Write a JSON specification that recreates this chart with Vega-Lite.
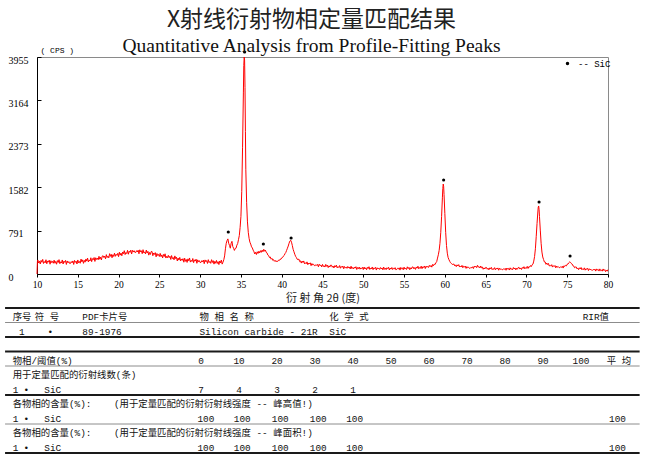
{
 "$schema": "https://vega.github.io/schema/vega-lite/v6.json",
 "width": 571,
 "height": 217,
 "autosize": {"type": "none"},
 "padding": {"left": 37, "top": 57, "right": 42, "bottom": 186},
 "background": "white",
 "config": {"view": {"stroke": "#8a8a8a", "strokeWidth": 1}},
 "title": {
  "text": "X射线衍射物相定量匹配结果",
  "subtitle": "Quantitative Analysis from Profile-Fitting Peaks",
  "anchor": "middle",
  "font": "Noto Sans CJK SC",
  "fontSize": 23,
  "fontWeight": "normal",
  "color": "#222222",
  "subtitleFont": "Liberation Serif",
  "subtitleFontSize": 19.5,
  "subtitleColor": "#111111",
  "subtitlePadding": 5,
  "offset": -9,
  "dx": -11
 },
 "datasets": {
  "xrd": [
   {"angle":10.0,"cps":0},{"angle":10.05,"cps":225},{"angle":10.1,"cps":256},{"angle":10.2,"cps":200},{"angle":10.3,"cps":234},{"angle":10.4,"cps":182},{"angle":10.5,"cps":248},{"angle":10.6,"cps":214},{"angle":10.7,"cps":266},{"angle":10.8,"cps":192},{"angle":10.9,"cps":226},
   {"angle":11.0,"cps":204},{"angle":11.1,"cps":260},{"angle":11.2,"cps":186},{"angle":11.3,"cps":238},{"angle":11.4,"cps":216},{"angle":11.5,"cps":252},{"angle":11.6,"cps":178},{"angle":11.7,"cps":242},{"angle":11.8,"cps":208},{"angle":11.9,"cps":230},
   {"angle":12.0,"cps":196},{"angle":12.1,"cps":252},{"angle":12.2,"cps":196},{"angle":12.3,"cps":230},{"angle":12.4,"cps":178},{"angle":12.5,"cps":244},{"angle":12.6,"cps":210},{"angle":12.7,"cps":262},{"angle":12.8,"cps":188},{"angle":12.9,"cps":222},
   {"angle":13.0,"cps":200},{"angle":13.1,"cps":256},{"angle":13.2,"cps":182},{"angle":13.3,"cps":234},{"angle":13.4,"cps":212},{"angle":13.5,"cps":248},{"angle":13.6,"cps":174},{"angle":13.7,"cps":238},{"angle":13.8,"cps":204},{"angle":13.9,"cps":226},
   {"angle":14.0,"cps":192},{"angle":14.1,"cps":192},{"angle":14.2,"cps":226},{"angle":14.3,"cps":204},{"angle":14.4,"cps":238},{"angle":14.5,"cps":174},{"angle":14.6,"cps":248},{"angle":14.7,"cps":212},{"angle":14.8,"cps":234},{"angle":14.9,"cps":182},
   {"angle":15.0,"cps":256},{"angle":15.1,"cps":204},{"angle":15.2,"cps":228},{"angle":15.3,"cps":196},{"angle":15.4,"cps":272},{"angle":15.5,"cps":222},{"angle":15.6,"cps":258},{"angle":15.7,"cps":194},{"angle":15.8,"cps":248},{"angle":15.9,"cps":216},
   {"angle":16.0,"cps":274},{"angle":16.1,"cps":235},{"angle":16.2,"cps":290},{"angle":16.3,"cps":219},{"angle":16.4,"cps":256},{"angle":16.5,"cps":237},{"angle":16.6,"cps":296},{"angle":16.7,"cps":225},{"angle":16.8,"cps":280},{"angle":16.9,"cps":261},
   {"angle":17.0,"cps":300},{"angle":17.1,"cps":229},{"angle":17.2,"cps":296},{"angle":17.3,"cps":265},{"angle":17.4,"cps":290},{"angle":17.5,"cps":259},{"angle":17.6,"cps":322},{"angle":17.7,"cps":269},{"angle":17.8,"cps":306},{"angle":17.9,"cps":257},
   {"angle":18.0,"cps":326},{"angle":18.1,"cps":333},{"angle":18.2,"cps":300},{"angle":18.3,"cps":325},{"angle":18.4,"cps":276},{"angle":18.5,"cps":353},{"angle":18.6,"cps":300},{"angle":18.7,"cps":325},{"angle":18.8,"cps":294},{"angle":18.9,"cps":371},
   {"angle":19.0,"cps":322},{"angle":19.1,"cps":359},{"angle":19.2,"cps":296},{"angle":19.3,"cps":351},{"angle":19.4,"cps":320},{"angle":19.5,"cps":379},{"angle":19.6,"cps":322},{"angle":19.7,"cps":359},{"angle":19.8,"cps":340},{"angle":19.9,"cps":377},
   {"angle":20.0,"cps":316},{"angle":20.1,"cps":397},{"angle":20.2,"cps":344},{"angle":20.3,"cps":381},{"angle":20.4,"cps":332},{"angle":20.5,"cps":401},{"angle":20.6,"cps":370},{"angle":20.7,"cps":425},{"angle":20.8,"cps":354},{"angle":20.9,"cps":391},
   {"angle":21.0,"cps":372},{"angle":21.1,"cps":431},{"angle":21.2,"cps":360},{"angle":21.3,"cps":415},{"angle":21.4,"cps":396},{"angle":21.5,"cps":435},{"angle":21.6,"cps":364},{"angle":21.7,"cps":431},{"angle":21.8,"cps":400},{"angle":21.9,"cps":425},
   {"angle":22.0,"cps":394},{"angle":22.1,"cps":392},{"angle":22.2,"cps":425},{"angle":22.3,"cps":401},{"angle":22.4,"cps":434},{"angle":22.5,"cps":368},{"angle":22.6,"cps":441},{"angle":22.7,"cps":403},{"angle":22.8,"cps":424},{"angle":22.9,"cps":370},
   {"angle":23.0,"cps":443},{"angle":23.1,"cps":384},{"angle":23.2,"cps":403},{"angle":23.3,"cps":366},{"angle":23.4,"cps":437},{"angle":23.5,"cps":382},{"angle":23.6,"cps":413},{"angle":23.7,"cps":344},{"angle":23.8,"cps":393},{"angle":23.9,"cps":356},
   {"angle":24.0,"cps":409},{"angle":24.1,"cps":410},{"angle":24.2,"cps":333},{"angle":24.3,"cps":382},{"angle":24.4,"cps":357},{"angle":24.5,"cps":390},{"angle":24.6,"cps":313},{"angle":24.7,"cps":374},{"angle":24.8,"cps":337},{"angle":24.9,"cps":356},
   {"angle":25.0,"cps":319},{"angle":25.1,"cps":376},{"angle":25.2,"cps":317},{"angle":25.3,"cps":348},{"angle":25.4,"cps":293},{"angle":25.5,"cps":356},{"angle":25.6,"cps":319},{"angle":25.7,"cps":368},{"angle":25.8,"cps":291},{"angle":25.9,"cps":322},
   {"angle":26.0,"cps":297},{"angle":26.1,"cps":340},{"angle":26.2,"cps":299},{"angle":26.3,"cps":324},{"angle":26.4,"cps":265},{"angle":26.5,"cps":336},{"angle":26.6,"cps":281},{"angle":26.7,"cps":300},{"angle":26.8,"cps":259},{"angle":26.9,"cps":330},
   {"angle":27.0,"cps":281},{"angle":27.1,"cps":306},{"angle":27.2,"cps":237},{"angle":27.3,"cps":290},{"angle":27.4,"cps":253},{"angle":27.5,"cps":302},{"angle":27.6,"cps":239},{"angle":27.7,"cps":274},{"angle":27.8,"cps":249},{"angle":27.9,"cps":280},
   {"angle":28.0,"cps":215},{"angle":28.1,"cps":288},{"angle":28.2,"cps":231},{"angle":28.3,"cps":264},{"angle":28.4,"cps":211},{"angle":28.5,"cps":276},{"angle":28.6,"cps":241},{"angle":28.7,"cps":292},{"angle":28.8,"cps":217},{"angle":28.9,"cps":250},
   {"angle":29.0,"cps":227},{"angle":29.1,"cps":282},{"angle":29.2,"cps":207},{"angle":29.3,"cps":258},{"angle":29.4,"cps":235},{"angle":29.5,"cps":270},{"angle":29.6,"cps":195},{"angle":29.7,"cps":258},{"angle":29.8,"cps":223},{"angle":29.9,"cps":244},
   {"angle":30.0,"cps":209},{"angle":30.1,"cps":210},{"angle":30.2,"cps":243},{"angle":30.3,"cps":220},{"angle":30.4,"cps":253},{"angle":30.5,"cps":188},{"angle":30.6,"cps":257},{"angle":30.7,"cps":224},{"angle":30.8,"cps":245},{"angle":30.9,"cps":192},
   {"angle":31.0,"cps":261},{"angle":31.1,"cps":208},{"angle":31.2,"cps":229},{"angle":31.3,"cps":194},{"angle":31.4,"cps":261},{"angle":31.5,"cps":210},{"angle":31.6,"cps":243},{"angle":31.7,"cps":180},{"angle":31.8,"cps":231},{"angle":31.9,"cps":196},
   {"angle":32.0,"cps":247},{"angle":32.1,"cps":192},{"angle":32.2,"cps":225},{"angle":32.3,"cps":172},{"angle":32.4,"cps":237},{"angle":32.5,"cps":202},{"angle":32.6,"cps":254},{"angle":32.7,"cps":180},{"angle":32.8,"cps":216},{"angle":32.9,"cps":260},
   {"angle":33.0,"cps":330},{"angle":33.1,"cps":460},{"angle":33.2,"cps":560},{"angle":33.3,"cps":610},{"angle":33.4,"cps":640},{"angle":33.5,"cps":560},{"angle":33.6,"cps":520},{"angle":33.7,"cps":470},{"angle":33.8,"cps":560},{"angle":33.9,"cps":595},
   {"angle":34.0,"cps":500},{"angle":34.1,"cps":470},{"angle":34.2,"cps":430},{"angle":34.3,"cps":465},{"angle":34.4,"cps":470},{"angle":34.5,"cps":525},{"angle":34.6,"cps":555},{"angle":34.7,"cps":625},{"angle":34.8,"cps":700},{"angle":34.9,"cps":850},
   {"angle":35.0,"cps":1050},{"angle":35.1,"cps":1500},{"angle":35.2,"cps":2300},{"angle":35.3,"cps":3300},{"angle":35.35,"cps":3800},{"angle":35.4,"cps":3955},{"angle":35.45,"cps":3900},{"angle":35.5,"cps":3400},{"angle":35.55,"cps":2600},{"angle":35.6,"cps":1900},
   {"angle":35.7,"cps":1300},{"angle":35.8,"cps":950},{"angle":35.9,"cps":760},{"angle":36.0,"cps":650},{"angle":36.1,"cps":580},{"angle":36.2,"cps":545},{"angle":36.3,"cps":495},{"angle":36.4,"cps":475},{"angle":36.5,"cps":435},{"angle":36.6,"cps":405},
   {"angle":36.7,"cps":365},{"angle":36.8,"cps":395},{"angle":36.9,"cps":355},{"angle":37.0,"cps":405},{"angle":37.1,"cps":375},{"angle":37.2,"cps":415},{"angle":37.3,"cps":385},{"angle":37.4,"cps":425},{"angle":37.5,"cps":395},{"angle":37.6,"cps":435},
   {"angle":37.7,"cps":405},{"angle":37.8,"cps":450},{"angle":37.9,"cps":415},{"angle":38.0,"cps":435},{"angle":38.1,"cps":395},{"angle":38.2,"cps":385},{"angle":38.3,"cps":345},{"angle":38.4,"cps":335},{"angle":38.5,"cps":300},{"angle":38.6,"cps":310},
   {"angle":38.7,"cps":270},{"angle":38.8,"cps":285},{"angle":38.9,"cps":250},{"angle":39.0,"cps":262},{"angle":39.1,"cps":232},{"angle":39.2,"cps":248},{"angle":39.3,"cps":222},{"angle":39.4,"cps":236},{"angle":39.5,"cps":228},{"angle":39.6,"cps":252},
   {"angle":39.7,"cps":245},{"angle":39.8,"cps":270},{"angle":39.9,"cps":268},{"angle":40.0,"cps":295},{"angle":40.1,"cps":300},{"angle":40.2,"cps":325},{"angle":40.3,"cps":338},{"angle":40.4,"cps":370},{"angle":40.5,"cps":392},{"angle":40.6,"cps":430},
   {"angle":40.7,"cps":470},{"angle":40.8,"cps":510},{"angle":40.9,"cps":560},{"angle":41.0,"cps":600},{"angle":41.1,"cps":615},{"angle":41.2,"cps":580},{"angle":41.3,"cps":520},{"angle":41.4,"cps":450},{"angle":41.5,"cps":405},{"angle":41.6,"cps":360},
   {"angle":41.7,"cps":322},{"angle":41.8,"cps":300},{"angle":41.9,"cps":268},{"angle":42.0,"cps":262},
   {"angle":42.1,"cps":272},{"angle":42.2,"cps":226},{"angle":42.3,"cps":240},{"angle":42.4,"cps":199},{"angle":42.5,"cps":236},{"angle":42.6,"cps":209},{"angle":42.7,"cps":238},{"angle":42.8,"cps":185},{"angle":42.9,"cps":205},
   {"angle":43.0,"cps":187},{"angle":43.1,"cps":221},{"angle":43.2,"cps":170},{"angle":43.3,"cps":200},{"angle":43.4,"cps":183},{"angle":43.5,"cps":204},{"angle":43.6,"cps":152},{"angle":43.7,"cps":191},{"angle":43.8,"cps":166},{"angle":43.9,"cps":177},
   {"angle":44.0,"cps":153},{"angle":44.1,"cps":151},{"angle":44.2,"cps":171},{"angle":44.3,"cps":155},{"angle":44.4,"cps":175},{"angle":44.5,"cps":131},{"angle":44.6,"cps":178},{"angle":44.7,"cps":152},{"angle":44.8,"cps":164},{"angle":44.9,"cps":129},
   {"angle":45.0,"cps":175},{"angle":45.1,"cps":137},{"angle":45.2,"cps":151},{"angle":45.3,"cps":127},{"angle":45.4,"cps":175},{"angle":45.5,"cps":140},{"angle":45.6,"cps":161},{"angle":45.7,"cps":117},{"angle":45.8,"cps":150},{"angle":45.9,"cps":127},
   {"angle":46.0,"cps":162},{"angle":46.1,"cps":161},{"angle":46.2,"cps":124},{"angle":46.3,"cps":145},{"angle":46.4,"cps":110},{"angle":46.5,"cps":152},{"angle":46.6,"cps":129},{"angle":46.7,"cps":162},{"angle":46.8,"cps":112},{"angle":46.9,"cps":134},
   {"angle":47.0,"cps":118},{"angle":47.1,"cps":154},{"angle":47.2,"cps":105},{"angle":47.3,"cps":137},{"angle":47.4,"cps":122},{"angle":47.5,"cps":145},{"angle":47.6,"cps":95},{"angle":47.7,"cps":136},{"angle":47.8,"cps":113},{"angle":47.9,"cps":126},
   {"angle":48.0,"cps":103},{"angle":48.1,"cps":137},{"angle":48.2,"cps":110},{"angle":48.3,"cps":128},{"angle":48.4,"cps":92},{"angle":48.5,"cps":142},{"angle":48.6,"cps":99},{"angle":48.7,"cps":119},{"angle":48.8,"cps":91},{"angle":48.9,"cps":125},
   {"angle":49.0,"cps":107},{"angle":49.1,"cps":133},{"angle":49.2,"cps":82},{"angle":49.3,"cps":118},{"angle":49.4,"cps":97},{"angle":49.5,"cps":127},{"angle":49.6,"cps":88},{"angle":49.7,"cps":111},{"angle":49.8,"cps":99},{"angle":49.9,"cps":122},
   {"angle":50.0,"cps":80},{"angle":50.1,"cps":127},{"angle":50.2,"cps":91},{"angle":50.3,"cps":113},{"angle":50.4,"cps":78},{"angle":50.5,"cps":121},{"angle":50.6,"cps":99},{"angle":50.7,"cps":133},{"angle":50.8,"cps":83},{"angle":50.9,"cps":106},
   {"angle":51.0,"cps":91},{"angle":51.1,"cps":128},{"angle":51.2,"cps":79},{"angle":51.3,"cps":112},{"angle":51.4,"cps":98},{"angle":51.5,"cps":122},{"angle":51.6,"cps":72},{"angle":51.7,"cps":114},{"angle":51.8,"cps":92},{"angle":51.9,"cps":106},
   {"angle":52.0,"cps":83},{"angle":52.1,"cps":118},{"angle":52.2,"cps":92},{"angle":52.3,"cps":111},{"angle":52.4,"cps":76},{"angle":52.5,"cps":127},{"angle":52.6,"cps":85},{"angle":52.7,"cps":106},{"angle":52.8,"cps":79},{"angle":52.9,"cps":114},
   {"angle":53.0,"cps":97},{"angle":53.1,"cps":123},{"angle":53.2,"cps":73},{"angle":53.3,"cps":109},{"angle":53.4,"cps":89},{"angle":53.5,"cps":119},{"angle":53.6,"cps":81},{"angle":53.7,"cps":104},{"angle":53.8,"cps":93},{"angle":53.9,"cps":116},
   {"angle":54.0,"cps":75},{"angle":54.1,"cps":83},{"angle":54.2,"cps":105},{"angle":54.3,"cps":91},{"angle":54.4,"cps":113},{"angle":54.5,"cps":71},{"angle":54.6,"cps":120},{"angle":54.7,"cps":96},{"angle":54.8,"cps":110},{"angle":54.9,"cps":77},
   {"angle":55.0,"cps":125},{"angle":55.1,"cps":89},{"angle":55.2,"cps":104},{"angle":55.3,"cps":82},{"angle":55.4,"cps":131},{"angle":55.5,"cps":98},{"angle":55.6,"cps":121},{"angle":55.7,"cps":78},{"angle":55.8,"cps":113},{"angle":55.9,"cps":91},
   {"angle":56.0,"cps":128},{"angle":56.1,"cps":129},{"angle":56.2,"cps":94},{"angle":56.3,"cps":117},{"angle":56.4,"cps":84},{"angle":56.5,"cps":128},{"angle":56.6,"cps":107},{"angle":56.7,"cps":142},{"angle":56.8,"cps":94},{"angle":56.9,"cps":118},
   {"angle":57.0,"cps":104},{"angle":57.1,"cps":143},{"angle":57.2,"cps":97},{"angle":57.3,"cps":132},{"angle":57.4,"cps":120},{"angle":57.5,"cps":146},{"angle":57.6,"cps":99},{"angle":57.7,"cps":143},{"angle":57.8,"cps":123},{"angle":57.9,"cps":139},
   {"angle":58.0,"cps":119},{"angle":58.1,"cps":157},{"angle":58.2,"cps":134},{"angle":58.3,"cps":156},{"angle":58.4,"cps":125},{"angle":58.5,"cps":174},{"angle":58.6,"cps":150},{"angle":58.7,"cps":180},{"angle":58.8,"cps":172},{"angle":58.9,"cps":204},
   {"angle":59.0,"cps":225},{"angle":59.1,"cps":290},{"angle":59.2,"cps":350},{"angle":59.3,"cps":430},{"angle":59.4,"cps":560},{"angle":59.5,"cps":760},{"angle":59.6,"cps":1050},{"angle":59.7,"cps":1400},{"angle":59.75,"cps":1560},{"angle":59.8,"cps":1640},
   {"angle":59.85,"cps":1600},{"angle":59.9,"cps":1450},{"angle":60.0,"cps":1100},{"angle":60.1,"cps":760},{"angle":60.2,"cps":520},{"angle":60.3,"cps":380},{"angle":60.4,"cps":300},{"angle":60.5,"cps":262},{"angle":60.6,"cps":230},{"angle":60.7,"cps":205},
   {"angle":60.8,"cps":190},{"angle":60.9,"cps":178},{"angle":61.0,"cps":170},
   {"angle":61.1,"cps":184},{"angle":61.2,"cps":150},{"angle":61.3,"cps":166},{"angle":61.4,"cps":134},{"angle":61.5,"cps":167},{"angle":61.6,"cps":146},{"angle":61.7,"cps":171},{"angle":61.8,"cps":127},{"angle":61.9,"cps":143},
   {"angle":62.0,"cps":128},{"angle":62.1,"cps":157},{"angle":62.2,"cps":114},{"angle":62.3,"cps":141},{"angle":62.4,"cps":127},{"angle":62.5,"cps":145},{"angle":62.6,"cps":102},{"angle":62.7,"cps":135},{"angle":62.8,"cps":114},{"angle":62.9,"cps":124},
   {"angle":63.0,"cps":104},{"angle":63.1,"cps":103},{"angle":63.2,"cps":122},{"angle":63.3,"cps":111},{"angle":63.4,"cps":132},{"angle":63.5,"cps":99},{"angle":63.6,"cps":143},{"angle":63.7,"cps":126},{"angle":63.8,"cps":142},{"angle":63.9,"cps":116},
   {"angle":64.0,"cps":159},{"angle":64.1,"cps":126},{"angle":64.2,"cps":134},{"angle":64.3,"cps":110},{"angle":64.4,"cps":146},{"angle":64.5,"cps":113},{"angle":64.6,"cps":126},{"angle":64.7,"cps":86},{"angle":64.8,"cps":112},{"angle":64.9,"cps":91},
   {"angle":65.0,"cps":120},{"angle":65.1,"cps":119},{"angle":65.2,"cps":87},{"angle":65.3,"cps":106},{"angle":65.4,"cps":76},{"angle":65.5,"cps":112},{"angle":65.6,"cps":93},{"angle":65.7,"cps":121},{"angle":65.8,"cps":79},{"angle":65.9,"cps":98},
   {"angle":66.0,"cps":85},{"angle":66.1,"cps":116},{"angle":66.2,"cps":75},{"angle":66.3,"cps":103},{"angle":66.4,"cps":91},{"angle":66.5,"cps":111},{"angle":66.6,"cps":69},{"angle":66.7,"cps":104},{"angle":66.8,"cps":85},{"angle":66.9,"cps":96},
   {"angle":67.0,"cps":78},{"angle":67.1,"cps":78},{"angle":67.2,"cps":96},{"angle":67.3,"cps":84},{"angle":67.4,"cps":103},{"angle":67.5,"cps":68},{"angle":67.6,"cps":109},{"angle":67.7,"cps":89},{"angle":67.8,"cps":101},{"angle":67.9,"cps":72},
   {"angle":68.0,"cps":113},{"angle":68.1,"cps":83},{"angle":68.2,"cps":95},{"angle":68.3,"cps":77},{"angle":68.4,"cps":118},{"angle":68.5,"cps":91},{"angle":68.6,"cps":110},{"angle":68.7,"cps":75},{"angle":68.8,"cps":105},{"angle":68.9,"cps":87},
   {"angle":69.0,"cps":119},{"angle":69.1,"cps":120},{"angle":69.2,"cps":90},{"angle":69.3,"cps":110},{"angle":69.4,"cps":82},{"angle":69.5,"cps":119},{"angle":69.6,"cps":103},{"angle":69.7,"cps":133},{"angle":69.8,"cps":94},{"angle":69.9,"cps":115},
   {"angle":70.0,"cps":105},{"angle":70.1,"cps":139},{"angle":70.2,"cps":101},{"angle":70.3,"cps":134},{"angle":70.4,"cps":127},{"angle":70.5,"cps":154},{"angle":70.6,"cps":136},{"angle":70.7,"cps":168},{"angle":70.8,"cps":180},{"angle":70.9,"cps":235},
   {"angle":71.0,"cps":320},{"angle":71.1,"cps":460},{"angle":71.2,"cps":680},{"angle":71.3,"cps":920},{"angle":71.4,"cps":1130},{"angle":71.45,"cps":1220},{"angle":71.5,"cps":1240},{"angle":71.55,"cps":1180},{"angle":71.6,"cps":1050},
   {"angle":71.7,"cps":800},{"angle":71.8,"cps":560},{"angle":71.9,"cps":400},{"angle":72.0,"cps":310},{"angle":72.1,"cps":265},{"angle":72.2,"cps":220},{"angle":72.3,"cps":219},{"angle":72.4,"cps":176},{"angle":72.5,"cps":200},{"angle":72.6,"cps":172},
   {"angle":72.7,"cps":192},{"angle":72.8,"cps":145},{"angle":72.9,"cps":159},{"angle":73.0,"cps":143},{"angle":73.1,"cps":170},{"angle":73.2,"cps":126},{"angle":73.3,"cps":152},{"angle":73.4,"cps":137},{"angle":73.5,"cps":155},{"angle":73.6,"cps":112},
   {"angle":73.7,"cps":145},{"angle":73.8,"cps":124},{"angle":73.9,"cps":135},{"angle":74.0,"cps":116},{"angle":74.1,"cps":115},{"angle":74.2,"cps":133},{"angle":74.3,"cps":121},{"angle":74.4,"cps":141},{"angle":74.5,"cps":108},{"angle":74.6,"cps":152},
   {"angle":74.7,"cps":137},{"angle":74.8,"cps":157},{"angle":74.9,"cps":148},{"angle":75.0,"cps":178},{"angle":75.1,"cps":181},{"angle":75.2,"cps":206},{"angle":75.3,"cps":220},{"angle":75.4,"cps":212},{"angle":75.5,"cps":192},{"angle":75.6,"cps":182},
   {"angle":75.7,"cps":150},{"angle":75.8,"cps":146},{"angle":75.9,"cps":114},{"angle":76.0,"cps":126},{"angle":76.1,"cps":129},{"angle":76.2,"cps":94},{"angle":76.3,"cps":110},{"angle":76.4,"cps":79},{"angle":76.5,"cps":113},{"angle":76.6,"cps":93},
   {"angle":76.7,"cps":119},{"angle":76.8,"cps":77},{"angle":76.9,"cps":95},{"angle":77.0,"cps":82},{"angle":77.1,"cps":112},{"angle":77.2,"cps":70},{"angle":77.3,"cps":98},{"angle":77.4,"cps":85},{"angle":77.5,"cps":104},{"angle":77.6,"cps":62},
   {"angle":77.7,"cps":96},{"angle":77.8,"cps":76},{"angle":77.9,"cps":87},{"angle":78.0,"cps":68},{"angle":78.1,"cps":67},{"angle":78.2,"cps":84},{"angle":78.3,"cps":71},{"angle":78.4,"cps":89},{"angle":78.5,"cps":53},{"angle":78.6,"cps":93},
   {"angle":78.7,"cps":72},{"angle":78.8,"cps":83},{"angle":78.9,"cps":53},{"angle":79.0,"cps":93},{"angle":79.1,"cps":61},{"angle":79.2,"cps":72},{"angle":79.3,"cps":52},{"angle":79.4,"cps":92},{"angle":79.5,"cps":63},{"angle":79.6,"cps":80},
   {"angle":79.7,"cps":43},{"angle":79.8,"cps":71},{"angle":79.9,"cps":51},{"angle":80.0,"cps":81}
  ],
  "peaks": [
   {"angle":33.45,"cps":765,"phase":"SiC"},
   {"angle":35.45,"cps":4046,"phase":"SiC"},
   {"angle":37.75,"cps":547,"phase":"SiC"},
   {"angle":41.15,"cps":656,"phase":"SiC"},
   {"angle":59.85,"cps":1713,"phase":"SiC"},
   {"angle":71.55,"cps":1312,"phase":"SiC"},
   {"angle":75.35,"cps":328,"phase":"SiC"}
  ],
  "rules": [
   {"line":0,"kind":"major"},{"line":1,"kind":"minor"},{"line":2,"kind":"major"},{"line":3,"kind":"major"},
   {"line":4,"kind":"minor"},{"line":6,"kind":"major"},{"line":8,"kind":"minor"},{"line":10,"kind":"major"}
  ],
  "labels": [
   {"line":0,"col":2,"text":"序号"},{"line":0,"col":5.5,"text":"符 号"},{"line":0,"col":13,"text":"PDF卡片号"},
   {"line":0,"col":31.5,"text":"物 相 名 称"},{"line":0,"col":52,"text":"化 学 式"},{"line":0,"col":92,"text":"RIR值"},
   {"line":1,"col":3,"text":"1"},{"line":1,"col":7.5,"text":"•"},{"line":1,"col":13,"text":"89-1976"},
   {"line":1,"col":31.5,"text":"Silicon carbide - 21R"},{"line":1,"col":52,"text":"SiC"},
   {"line":3,"col":2,"text":"物相/阈值(%)"},
   {"line":4,"col":2,"text":"用于定量匹配的衍射线数(条)"},
   {"line":5,"col":2,"text":"1"},{"line":5,"col":3.7,"text":"•"},{"line":5,"col":7,"text":"SiC"},
   {"line":6,"col":2,"text":"各物相的含量(%):"},{"line":6,"col":18,"text":"(用于定量匹配的衍射衍射线强度 -- 峰高值!)"},
   {"line":7,"col":2,"text":"1"},{"line":7,"col":3.7,"text":"•"},{"line":7,"col":7,"text":"SiC"},
   {"line":8,"col":2,"text":"各物相的含量(%):"},{"line":8,"col":18,"text":"(用于定量匹配的衍射衍射线强度 -- 峰面积!)"},
   {"line":9,"col":2,"text":"1"},{"line":9,"col":3.7,"text":"•"},{"line":9,"col":7,"text":"SiC"}
  ],
  "cells": [
   {"line":3,"col":31.75,"text":"0"},{"line":3,"col":37.75,"text":"10"},{"line":3,"col":43.75,"text":"20"},{"line":3,"col":49.75,"text":"30"},
   {"line":3,"col":55.75,"text":"40"},{"line":3,"col":61.75,"text":"50"},{"line":3,"col":67.75,"text":"60"},{"line":3,"col":73.75,"text":"70"},
   {"line":3,"col":79.75,"text":"80"},{"line":3,"col":85.75,"text":"90"},{"line":3,"col":91.75,"text":"100"},{"line":3,"col":97.75,"text":"平 均"},
   {"line":5,"col":31.75,"text":"7"},{"line":5,"col":37.75,"text":"4"},{"line":5,"col":43.75,"text":"3"},{"line":5,"col":49.75,"text":"2"},{"line":5,"col":55.75,"text":"1"},
   {"line":7,"col":32.5,"text":"100"},{"line":7,"col":38.25,"text":"100"},{"line":7,"col":44.25,"text":"100"},{"line":7,"col":50.25,"text":"100"},{"line":7,"col":56,"text":"100"},{"line":7,"col":97.5,"text":"100"},
   {"line":9,"col":32.5,"text":"100"},{"line":9,"col":38.25,"text":"100"},{"line":9,"col":44.25,"text":"100"},{"line":9,"col":50.25,"text":"100"},{"line":9,"col":56,"text":"100"},{"line":9,"col":97.5,"text":"100"}
  ]
 },
 "layer": [
  {
   "layer": [
    {
     "data": {"name": "xrd"},
     "mark": {"type": "line", "color": "#ff0000", "strokeWidth": 1},
     "encoding": {
      "x": {"field": "angle", "type": "quantitative",
       "scale": {"domain": [10, 80], "nice": false, "zero": false},
       "axis": {"values": [10,15,20,25,30,35,40,45,50,55,60,65,70,75,80],
        "title": "衍 射 角 2θ (度)", "titleFont": "Noto Sans CJK SC", "titleFontSize": 11, "titleFontWeight": "normal", "titleColor": "#222222", "titlePadding": 4,
        "labelFont": "Liberation Serif", "labelFontSize": 9.5, "labelColor": "#000000", "labelPadding": 2, "labelFlush": false, "labelOverlap": false,
        "tickSize": 3, "tickColor": "#000000", "domainColor": "#000000", "grid": false}},
      "y": {"field": "cps", "type": "quantitative",
       "scale": {"domain": [0, 3955], "nice": false, "zero": true},
       "axis": {"values": [0, 791, 1582, 2373, 3164, 3955], "format": "d",
        "title": "( CPS )", "titleAngle": 0, "titleAlign": "left", "titleBaseline": "middle", "titleX": 3, "titleY": -7,
        "titleFont": "Liberation Mono", "titleFontSize": 8, "titleFontWeight": "normal", "titleColor": "#000000",
        "labelFont": "Liberation Serif", "labelFontSize": 10, "labelColor": "#000000", "labelAlign": "left", "labelBaseline": "middle",
        "labelOffset": 3, "labelPadding": 33, "labelFlush": false, "labelOverlap": false,
        "tickSize": -4, "tickColor": "#000000", "domainColor": "#000000", "grid": false}}
     }
    },
    {
     "data": {"name": "peaks"},
     "mark": {"type": "point", "filled": true, "size": 10, "opacity": 1},
     "encoding": {
      "x": {"field": "angle", "type": "quantitative"},
      "y": {"field": "cps", "type": "quantitative"},
      "color": {"field": "phase", "type": "nominal", "scale": {"range": ["#000000"]},
       "legend": {"title": null, "orient": "none", "legendX": 526, "legendY": 2, "padding": 0,
        "symbolType": "circle", "symbolSize": 12, "symbolFillColor": "#000000", "symbolStrokeWidth": 0,
        "labelFont": "Liberation Mono", "labelFontSize": 9, "labelColor": "#000000", "labelOffset": 6,
        "labelExpr": "'-- ' + datum.label"}}
     }
    }
   ]
  },
  {
   "layer": [
    {
     "data": {"name": "rules"},
     "transform": [{"filter": "datum.kind === 'major'"}],
     "mark": {"type": "rule", "color": "#1a1a1a", "strokeWidth": 2},
     "encoding": {
      "y": {"field": "line", "type": "quantitative", "scale": {"domain": [0, 10], "range": [251, 396], "nice": false, "zero": false}, "axis": null},
      "x": {"datum": 0.8, "type": "quantitative", "scale": {"domain": [0, 100], "range": [-37, 596.3], "nice": false, "zero": false}, "axis": null},
      "x2": {"datum": 101}
     }
    },
    {
     "data": {"name": "rules"},
     "transform": [{"filter": "datum.kind === 'minor'"}],
     "mark": {"type": "rule", "color": "#8c8c8c", "strokeWidth": 1},
     "encoding": {
      "y": {"field": "line", "type": "quantitative", "axis": null},
      "x": {"datum": 0.8, "type": "quantitative", "axis": null},
      "x2": {"datum": 101}
     }
    },
    {
     "data": {"name": "labels"},
     "mark": {"type": "text", "align": "left", "baseline": "middle", "dy": 9, "font": "Liberation Mono, Noto Sans CJK SC", "fontSize": 9.4, "color": "#111111"},
     "encoding": {
      "x": {"field": "col", "type": "quantitative", "axis": null},
      "y": {"field": "line", "type": "quantitative", "axis": null},
      "text": {"field": "text"}
     }
    },
    {
     "data": {"name": "cells"},
     "mark": {"type": "text", "align": "center", "baseline": "middle", "dy": 9, "font": "Liberation Mono, Noto Sans CJK SC", "fontSize": 9.4, "color": "#111111"},
     "encoding": {
      "x": {"field": "col", "type": "quantitative", "axis": null},
      "y": {"field": "line", "type": "quantitative", "axis": null},
      "text": {"field": "text"}
     }
    }
   ]
  }
 ],
 "resolve": {"scale": {"x": "independent", "y": "independent"}}
}
